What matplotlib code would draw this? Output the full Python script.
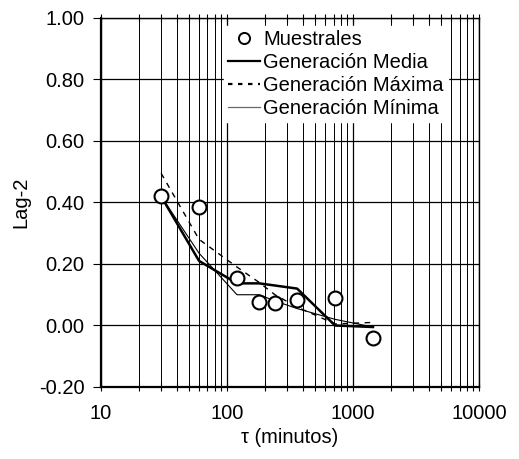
import numpy as np
import matplotlib.pyplot as plt
from matplotlib.ticker import LogLocator, FixedLocator, NullFormatter
from matplotlib.lines import Line2D

plt.rcParams["font.family"] = ["Liberation Sans", "DejaVu Sans"]

# Data
tauObs   = [30, 60, 120, 180, 240, 360, 720, 1440]
lagObs   = [0.42, 0.385, 0.155, 0.078, 0.073, 0.082, 0.088, -0.04]

tauGen   = [30, 60, 120, 180, 240, 360, 720, 1440]
lagMedia = [0.42, 0.21, 0.137, 0.137, 0.13, 0.12, 0.0, -0.005]
lagMax   = [0.495, 0.28, 0.19, 0.14, 0.10, 0.06, 0.005, 0.01]
lagMin   = [0.42, 0.235, 0.10, 0.10, 0.08, 0.055, 0.02, -0.005]

yTicks   = [-0.2, 0.0, 0.2, 0.4, 0.6, 0.8, 1.0]

fSize = 14.5

fig = plt.figure(figsize=(5.19, 4.59), dpi=100)
ax  = fig.add_axes([0.1946, 0.1569, 0.923 - 0.1946, 0.9608 - 0.1569])

ax.set_xscale("log")
ax.set_xlim(10, 10000)
ax.set_ylim(-0.2, 1.0)

# Grid
ax.xaxis.set_minor_locator(LogLocator(base=10, subs=np.arange(2, 10), numticks=20))
ax.xaxis.set_minor_formatter(NullFormatter())
ax.set_xticks([10, 100, 1000, 10000])
ax.set_xticklabels(["10", "100", "1000", "10000"])
ax.yaxis.set_major_locator(FixedLocator(yTicks))
ax.set_yticklabels(["{:.2f}".format(v) for v in yTicks])
ax.grid(True, which="major", axis="both", color="black", linewidth=0.9)
ax.grid(True, which="minor", axis="x", color="black", linewidth=0.7)

ax.tick_params(axis="x", which="both", direction="inout", top=True,
               length=6, width=0.8, labelsize=fSize, pad=9)
ax.tick_params(axis="y", which="both", direction="out", length=6, width=0.8,
               labelsize=fSize, pad=6)
for side in ["left", "bottom"]:
    ax.spines[side].set_linewidth(1.6)
for side in ["top", "right"]:
    ax.spines[side].set_linewidth(1.0)

# Series
ax.plot(tauGen, lagMedia, color="black", linewidth=1.8, zorder=3)
ax.plot(tauGen, lagMax, color="black", linewidth=1.0, linestyle=(0, (4, 4)),
        zorder=3)
ax.plot(tauGen, lagMin, color="black", linewidth=0.8, zorder=3)
ax.plot(tauObs, lagObs, linestyle="none", marker="o", markersize=10,
        markerfacecolor="white", markeredgecolor="black", markeredgewidth=1.5,
        zorder=4)

ax.set_xlabel("τ (minutos)", fontsize=fSize, labelpad=4)
ax.set_ylabel("Lag-2", fontsize=fSize, labelpad=6)

# Legend
handles = [
    Line2D([], [], linestyle="none", marker="o", markersize=8,
           markerfacecolor="white", markeredgecolor="black", markeredgewidth=1.4),
    Line2D([], [], color="black", linewidth=1.6),
    Line2D([], [], color="black", linewidth=1.6, linestyle=(0, (2, 2.5))),
    Line2D([], [], color="dimgray", linewidth=0.9),
]
labels = ["Muestrales", "Generación Media", "Generación Máxima", "Generación Mínima"]
leg = ax.legend(handles, labels, loc="upper left", bbox_to_anchor=(0.325, 0.978),
                frameon=True, fancybox=False, edgecolor="white", facecolor="white",
                framealpha=1.0, fontsize=fSize, handlelength=1.6, handletextpad=0.15,
                labelspacing=0.2, borderpad=0.2, borderaxespad=0.0)
leg.set_zorder(5)

fig.savefig("out.png", dpi=100)
